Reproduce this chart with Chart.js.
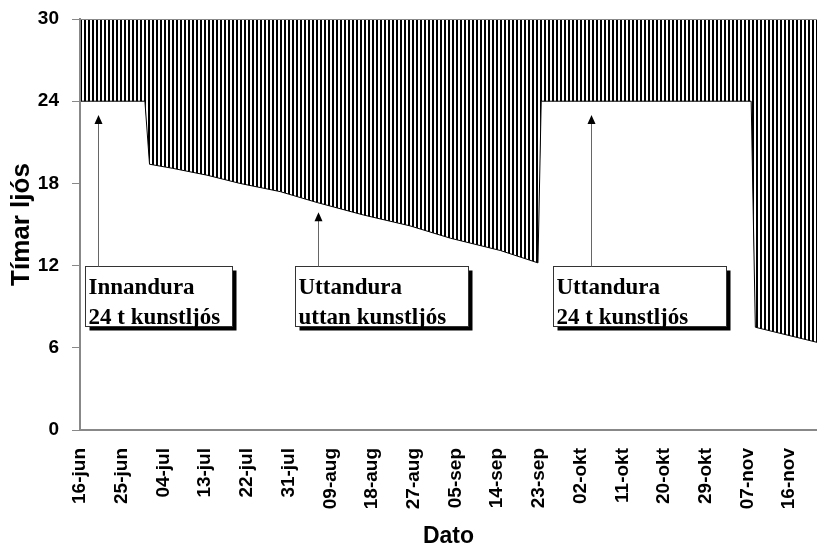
<!DOCTYPE html>
<html>
<head>
<meta charset="utf-8">
<script src="https://cdn.jsdelivr.net/npm/chart.js@4.4.0/dist/chart.umd.min.js"></script>
<style>body{margin:0;background:#fff}</style>
</head>
<body>
<canvas id="chart-lys" width="817" height="548"></canvas>
<script>
/* Tímar ljós - dagar talið frá 16-jun */
var dagar = [0, 14, 15, 20, 27.4, 34.5, 43.2, 51.2, 61.1, 71.2, 79.9, 90.7, 98.8, 99.5, 144.8, 145.7, 159];
var timar = [24, 24, 19.4, 19.1, 18.6, 18.0, 17.4, 16.6, 15.7, 14.9, 14.0, 13.1, 12.2, 24, 24, 7.5, 6.4];

var tickDagar = [0, 9, 18, 27, 36, 45, 54, 63, 72, 81, 90, 99, 108, 117, 126, 135, 144, 153];
var tickMerki = ["16-jun", "25-jun", "04-jul", "13-jul", "22-jul", "31-jul", "09-aug", "18-aug", "27-aug",
                 "05-sep", "14-sep", "23-sep", "02-okt", "11-okt", "20-okt", "29-okt", "07-nov", "16-nov"];
var yTicks = [0, 6, 12, 18, 24, 30];

// textareitir með ör
var merki = [
  {tekst: ["Innandura", "24 t kunstljós"], fra: 1.1, til: 32.8, orX: 3.9, orY: 23.0},
  {tekst: ["Uttandura", "uttan kunstljós"], fra: 46.4, til: 83.7, orX: 51.4, orY: 15.9},
  {tekst: ["Uttandura", "24 t kunstljós"], fra: 102.1, til: 139.4, orX: 110.3, orY: 23.0}
];
var merkiTop = 12.0, merkiBotn = 7.6;

var ctx = document.getElementById("chart-lys").getContext("2d");

// lóðrétt strik
var p = document.createElement("canvas");
p.width = 4; p.height = 4;
var pc = p.getContext("2d");
pc.fillStyle = "#fff"; pc.fillRect(0, 0, 4, 4);
pc.fillStyle = "#000"; pc.fillRect(0, 0, 2, 4);
var munstur = ctx.createPattern(p, "repeat");

var merkiPlugin = {
  id: "merki",
  afterDatasetsDraw: function(chart) {
    var c = chart.ctx, xs = chart.scales.x, ys = chart.scales.y;
    var t = Math.round(ys.getPixelForValue(merkiTop)) + 0.5;
    var b = Math.round(ys.getPixelForValue(merkiBotn)) + 0.5;
    c.save();
    merki.forEach(function(m) {
      var l = Math.round(xs.getPixelForValue(m.fra)) + 0.5;
      var r = Math.round(xs.getPixelForValue(m.til)) + 0.5;
      // skuggi
      c.fillStyle = "#000";
      c.fillRect(l + 4, t + 4, r - l, b - t);
      c.fillStyle = "#fff";
      c.fillRect(l, t, r - l, b - t);
      c.strokeStyle = "#333";
      c.lineWidth = 1;
      c.strokeRect(l, t, r - l, b - t);
      c.fillStyle = "#000";
      c.font = "bold 23px 'Liberation Serif', 'Times New Roman', serif";
      c.textBaseline = "alphabetic";
      c.textAlign = "left";
      c.fillText(m.tekst[0], l + 3, t + 27);
      c.fillText(m.tekst[1], l + 3, t + 57);
      // ör
      var ax = Math.round(xs.getPixelForValue(m.orX)) + 0.5;
      var ay = ys.getPixelForValue(m.orY);
      c.strokeStyle = "#666";
      c.beginPath();
      c.moveTo(ax, t);
      c.lineTo(ax, ay + 8);
      c.stroke();
      c.fillStyle = "#000";
      c.beginPath();
      c.moveTo(ax, ay);
      c.lineTo(ax - 4, ay + 9);
      c.lineTo(ax + 4, ay + 9);
      c.closePath();
      c.fill();
    });
    c.restore();
  }
};

new Chart(ctx, {
  type: "line",
  data: {
    datasets: [{
      label: "Tímar ljós",
      data: dagar.map(function(d, i) { return {x: d, y: timar[i]}; }),
      borderColor: "#000",
      borderWidth: 1,
      backgroundColor: munstur,
      fill: "end",
      tension: 0,
      pointRadius: 0
    }]
  },
  options: {
    responsive: false,
    animation: false,
    layout: {padding: {top: 19, right: 0, left: 0, bottom: 0}},
    plugins: {
      legend: {display: false},
      tooltip: {enabled: false}
    },
    scales: {
      x: {
        type: "linear",
        min: 0,
        max: 159,
        afterBuildTicks: function(scale) {
          scale.ticks = tickDagar.map(function(v) { return {value: v}; });
        },
        afterFit: function(scale) {
          scale.height = 118;
          scale.paddingLeft = 0;
          scale.paddingRight = 0;
        },
        grid: {display: true, drawOnChartArea: false, drawTicks: false},
        border: {color: "#888", width: 2, z: 1},
        ticks: {
          autoSkip: false,
          minRotation: 90,
          maxRotation: 90,
          padding: 18,
          color: "#000",
          font: {size: 19, weight: "bold", family: "'Liberation Sans', Arial, sans-serif"},
          callback: function(v, i) { return tickMerki[i]; }
        },
        title: {
          display: true,
          text: "Dato",
          color: "#000",
          padding: {top: 0, bottom: -2},
          font: {size: 23, weight: "bold", family: "'Liberation Sans', Arial, sans-serif"}
        }
      },
      y: {
        min: 0,
        max: 30,
        afterBuildTicks: function(scale) {
          scale.ticks = yTicks.map(function(v) { return {value: v}; });
        },
        afterFit: function(scale) {
          scale.width = 80;
          scale.paddingTop = 0;
          scale.paddingBottom = 0;
        },
        grid: {
          drawOnChartArea: true,
          drawTicks: true,
          tickLength: 8,
          z: 1,
          tickColor: "#888",
          color: function(c) { return c.tick && c.tick.value === 30 ? "#888" : "rgba(0,0,0,0)"; }
        },
        border: {color: "#888", width: 2, z: 1},
        ticks: {
          padding: 13,
          color: "#000",
          font: {size: 19, weight: "bold", family: "'Liberation Sans', Arial, sans-serif"}
        },
        title: {
          display: true,
          text: "Tímar ljós",
          color: "#000",
          padding: {top: 6, bottom: 0},
          font: {size: 26, weight: "bold", family: "'Liberation Sans', Arial, sans-serif"}
        }
      }
    }
  },
  plugins: [merkiPlugin]
});
</script>
</body>
</html>
